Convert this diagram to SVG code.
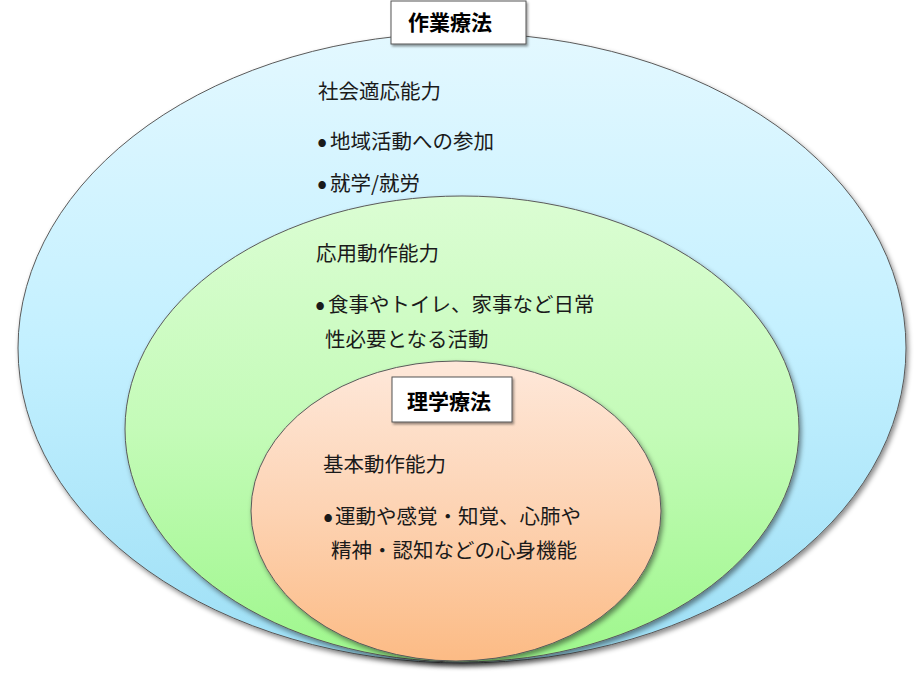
<svg xmlns="http://www.w3.org/2000/svg" width="924" height="679" viewBox="0 0 924 679">
<defs>
<linearGradient id="gBlue" x1="0" y1="0" x2="0" y2="1">
<stop offset="0" stop-color="#e3f8ff"/>
<stop offset="0.5" stop-color="#c3f0ff"/>
<stop offset="1" stop-color="#9ddff5"/>
</linearGradient>
<linearGradient id="gGreen" x1="0" y1="0" x2="0" y2="1">
<stop offset="0" stop-color="#dbfdd3"/>
<stop offset="0.5" stop-color="#c4fbb8"/>
<stop offset="1" stop-color="#9ef78c"/>
</linearGradient>
<linearGradient id="gOrange" x1="0" y1="0" x2="0" y2="1">
<stop offset="0" stop-color="#fee8da"/>
<stop offset="0.5" stop-color="#fdd3b3"/>
<stop offset="1" stop-color="#fcbb85"/>
</linearGradient>
<filter id="sh" x="-10%" y="-10%" width="125%" height="125%">
<feDropShadow dx="2" dy="3" stdDeviation="2.5" flood-color="#000" flood-opacity="0.45"/>
</filter>
<filter id="shb" x="-10%" y="-20%" width="130%" height="150%">
<feDropShadow dx="1.5" dy="2" stdDeviation="1.2" flood-color="#000" flood-opacity="0.4"/>
</filter>
</defs>
<style>
.ell{stroke:#5a5a5a;stroke-width:1;}
.t{font-family:"Noto Sans CJK JP","Noto Sans",sans-serif;font-size:20.5px;fill:#1a1a1a;}
.b{font-size:30px;}
.lb{font-family:"Noto Sans CJK JP","Noto Sans",sans-serif;font-size:21px;font-weight:bold;fill:#000;}
.box{fill:#fff;stroke:#555;stroke-width:1;}
</style>
<rect width="924" height="679" fill="#fff"/>
<g id="ot">
<ellipse class="ell" cx="462" cy="348" rx="444" ry="315" fill="url(#gBlue)" filter="url(#sh)"/>
<text class="t" x="318" y="99">社会適応能力</text>
<text class="t" x="317" y="152"><tspan class="b">•</tspan><tspan x="330" y="149">地域活動への参加</tspan></text>
<text class="t" x="317" y="194"><tspan class="b">•</tspan><tspan x="330" y="191">就学/就労</tspan></text>
</g>
<g id="applied">
<ellipse class="ell" cx="462" cy="429" rx="337" ry="233" fill="url(#gGreen)" filter="url(#sh)"/>
<text class="t" x="316" y="261">応用動作能力</text>
<text class="t" x="315" y="315"><tspan class="b">•</tspan><tspan x="328" y="312">食事やトイレ、家事など日常</tspan></text>
<text class="t" x="325" y="347">性必要となる活動</text>
</g>
<g id="basic">
<ellipse class="ell" cx="456" cy="511" rx="205" ry="150" fill="url(#gOrange)" filter="url(#sh)"/>
<text class="t" x="323" y="472">基本動作能力</text>
<text class="t" x="323" y="527"><tspan class="b">•</tspan><tspan x="335" y="524">運動や感覚・知覚、心肺や</tspan></text>
<text class="t" x="331" y="558">精神・認知などの心身機能</text>
</g>
<g id="label-ot">
<rect class="box" x="391" y="1" width="135" height="43" filter="url(#shb)"/>
<text class="lb" x="408" y="30">作業療法</text>
</g>
<g id="label-pt">
<rect class="box" x="392" y="377" width="120" height="45" filter="url(#shb)"/>
<text class="lb" x="407" y="409">理学療法</text>
</g>
<g id="connectors"/>
</svg>
